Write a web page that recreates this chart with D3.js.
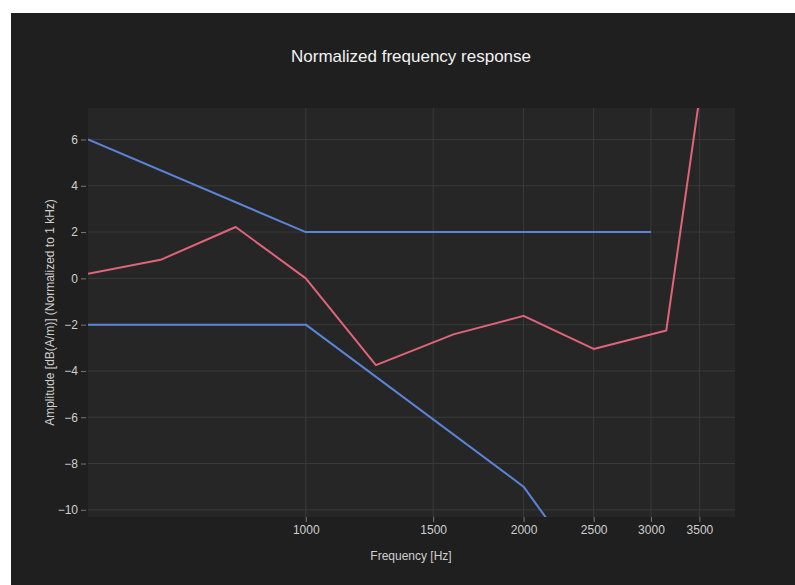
<!DOCTYPE html>
<html>
<head>
<meta charset="utf-8">
<script src="https://cdn.jsdelivr.net/npm/d3@7"></script>
<style>
  html, body { margin: 0; padding: 0; background: #ffffff; }
  svg { display: block; }
  text { font-family: "Liberation Sans", Arial, sans-serif; }
</style>
</head>
<body>
<svg id="chart" width="795" height="585"></svg>
<script>
// ---- data ----
const titleText = "Normalized frequency response";
const xTitle = "Frequency [Hz]";
const yTitle = "Amplitude [dB(A/m)] (Normalized to 1 kHz)";

const xTicks = [1000, 1500, 2000, 2500, 3000, 3500];
const yTicks = [-10, -8, -6, -4, -2, 0, 2, 4, 6];

const upperLimitFreq = [500, 1000, 3000];
const upperLimitVal  = [6, 2, 2];

const lowerLimitFreq = [500, 1000, 2000, 4000];
const lowerLimitVal  = [-2, -2, -9, -22];

const responseFreq = [500, 630, 800, 1000, 1250, 1600, 2000, 2500, 3150, 4000];
const responseVal  = [0.2, 0.8, 2.22, 0.0, -3.75, -2.42, -1.62, -3.05, -2.25, 20.5];

// ---- layout ----
const svg = d3.select("#chart");
const W = 795, H = 585;
const plot = { left: 88, right: 735, top: 108, bottom: 517 };

svg.append("rect").attr("x", 11).attr("y", 13).attr("width", W - 11).attr("height", H - 13)
  .attr("fill", "#1f1f1f");
svg.append("rect").attr("x", plot.left).attr("y", plot.top)
  .attr("width", plot.right - plot.left).attr("height", plot.bottom - plot.top)
  .attr("fill", "#262626");

const x = d3.scaleLog().domain([500, 3920]).range([plot.left, plot.right]);
const y = d3.scaleLinear().domain([-10.31, 7.36]).range([plot.bottom, plot.top]);

// grid
const grid = svg.append("g");
grid.selectAll("line.v").data(xTicks).join("line")
  .attr("x1", d => x(d)).attr("x2", d => x(d))
  .attr("y1", plot.top).attr("y2", plot.bottom)
  .attr("stroke", "#3a3a3a").attr("stroke-width", 1);
grid.selectAll("line.h").data(yTicks).join("line")
  .attr("x1", plot.left).attr("x2", plot.right)
  .attr("y1", d => y(d)).attr("y2", d => y(d))
  .attr("stroke", "#3a3a3a").attr("stroke-width", 1);

// axes
const xAxis = d3.axisBottom(x).tickValues(xTicks).tickFormat(d3.format("d")).tickSize(5).tickPadding(3);
const yAxis = d3.axisLeft(y).tickValues(yTicks).tickFormat(d => d < 0 ? "\u2212" + Math.abs(d) : d).tickSize(5).tickPadding(3);

const gx = svg.append("g").attr("transform", `translate(0,${plot.bottom})`).call(xAxis);
const gy = svg.append("g").attr("transform", `translate(${plot.left - 2},0)`).call(yAxis);
[gx, gy].forEach(g => {
  g.attr("fill", "#cfcfcf").style("color", "#cfcfcf");
  g.select(".domain").remove();
  g.selectAll(".tick line").attr("stroke", "#777");
  g.selectAll(".tick text").attr("fill", "#cfcfcf").style("fill", "#cfcfcf").attr("font-size", 12)
    .style("font-family", "'Liberation Sans', Arial, sans-serif");
});

// clip
svg.append("clipPath").attr("id", "clip").append("rect")
  .attr("x", plot.left).attr("y", plot.top)
  .attr("width", plot.right - plot.left).attr("height", plot.bottom - plot.top);

const line = d3.line().x(d => x(d[0])).y(d => y(d[1]));
const lines = svg.append("g").attr("clip-path", "url(#clip)");

const series = [
  { f: upperLimitFreq, v: upperLimitVal, color: "#5b84d9" },
  { f: lowerLimitFreq, v: lowerLimitVal, color: "#5b84d9" },
  { f: responseFreq, v: responseVal, color: "#e0647a" }
];
series.forEach(s => {
  lines.append("path")
    .datum(s.f.map((f, i) => [f, s.v[i]]))
    .attr("d", line)
    .attr("fill", "none")
    .attr("stroke", s.color)
    .attr("stroke-width", 2)
    .attr("stroke-linejoin", "round");
});

// titles
svg.append("text").attr("x", 411).attr("y", 62).attr("text-anchor", "middle")
  .attr("fill", "#f2f2f2").attr("font-size", 17).text(titleText);
svg.append("text").attr("x", 411).attr("y", 560).attr("text-anchor", "middle")
  .attr("fill", "#cfcfcf").attr("font-size", 12).text(xTitle);
svg.append("text").attr("transform", `translate(54,${(plot.top + plot.bottom) / 2}) rotate(-90)`)
  .attr("text-anchor", "middle").attr("fill", "#cfcfcf").attr("font-size", 12).text(yTitle);
</script>
</body>
</html>
